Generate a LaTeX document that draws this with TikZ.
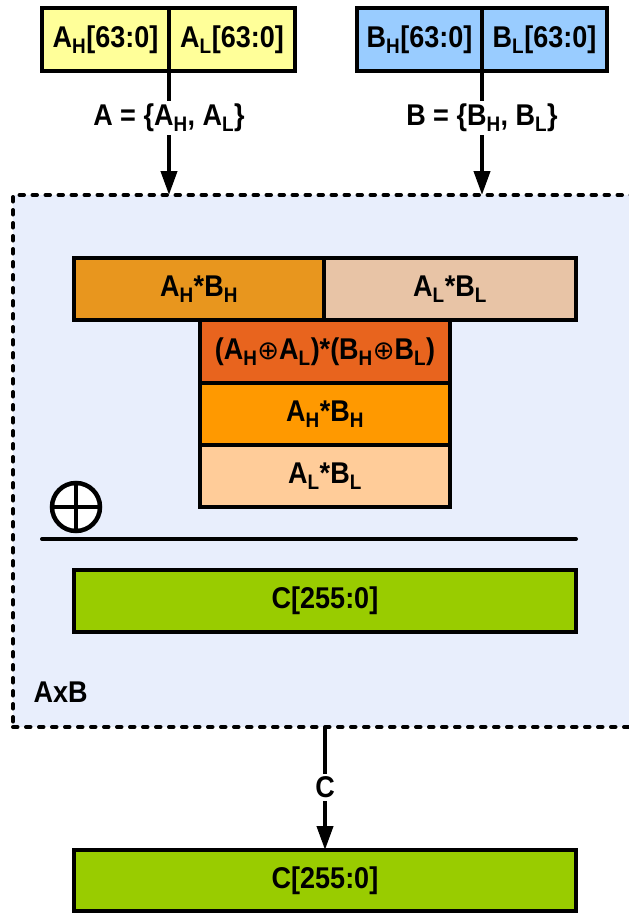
\documentclass[tikz,border=0pt]{standalone}
\usepackage{fontspec}
\setmainfont{Liberation Sans}[FakeStretch=0.9]
\newfontfamily\symfont{DejaVu Sans}
\usetikzlibrary{arrows.meta}

\definecolor{regyellow}{HTML}{FFFF99}
\definecolor{regblue}{HTML}{99CCFF}
\definecolor{unitbg}{HTML}{E8EEFC}
\definecolor{hiorange}{HTML}{E8961E}
\definecolor{lopeach}{HTML}{E8C4A6}
\definecolor{midorange}{HTML}{E8641E}
\definecolor{brightorange}{HTML}{FF9900}
\definecolor{lightpeach}{HTML}{FFCC99}
\definecolor{resgreen}{HTML}{99CC00}

\newcommand{\sbs}[1]{\textsubscript{#1}}
\newcommand{\xorop}{{\symfont\mdseries\fontsize{26}{28}\selectfont ⊕}}

\begin{document}
\begin{tikzpicture}[x=1pt,y=-1pt,
  every node/.style={font=\fontsize{30}{34}\selectfont\bfseries},
  cell/.style={draw=black, line width=4pt, inner sep=0pt, outer sep=0pt, rectangle},
  lbl/.style={fill=white, inner sep=3pt},
  arr/.style={line width=4pt, -{Triangle[width=16pt,length=24pt]}}]
\useasboundingbox (0,0) rectangle (629,913);

% multiplier unit
\node[draw=black, fill=unitbg, line width=4pt, line cap=round, dash pattern=on 4.5pt off 8.5pt,
      inner sep=0pt, outer sep=0pt, minimum width=630pt, minimum height=532pt,
      anchor=north west] (axb) at (13,195) {};
\node[anchor=west] (axblbl) at (30,692) {AxB};

% operand registers
\node[cell, fill=regyellow, minimum width=127pt, minimum height=63pt] (ah) at (105.5,39.5) {A\sbs{H}[63:0]};
\node[cell, fill=regyellow, minimum width=126pt, minimum height=63pt] (al) at (232,39.5) {A\sbs{L}[63:0]};
\node[cell, fill=regblue, minimum width=125pt, minimum height=63pt] (bh) at (419.5,39.5) {B\sbs{H}[63:0]};
\node[cell, fill=regblue, minimum width=125pt, minimum height=63pt] (bl) at (544.5,39.5) {B\sbs{L}[63:0]};

% partial products
\node[cell, fill=hiorange, minimum width=250pt, minimum height=62pt] (p1) at (199,289) {A\sbs{H}*B\sbs{H}};
\node[cell, fill=lopeach, minimum width=252pt, minimum height=62pt] (p2) at (450,289) {A\sbs{L}*B\sbs{L}};
\node[cell, fill=midorange, minimum width=250pt, minimum height=63pt] (p3) at (325,351.5) {(A\sbs{H}\xorop A\sbs{L})*(B\sbs{H}\xorop B\sbs{L})};
\node[cell, fill=brightorange, minimum width=250pt, minimum height=62pt] (p4) at (325,414) {A\sbs{H}*B\sbs{H}};
\node[cell, fill=lightpeach, minimum width=250pt, minimum height=62pt] (p5) at (325,476) {A\sbs{L}*B\sbs{L}};

% xor accumulation
\draw[line width=4.5pt, fill=white] (76,507) circle (24pt);
\draw[line width=4pt] (52,507) -- (100,507) (76,483) -- (76,531);
\draw[line width=4pt, line cap=round] (42,539) -- (576,539);

% results
\node[cell, fill=resgreen, minimum width=502pt, minimum height=62pt] (cin) at (325,601) {C[255:0]};
\node[cell, fill=resgreen, minimum width=502pt, minimum height=61pt] (cout) at (325,880.5) {C[255:0]};

% connectors
\draw[arr] (ah.south east) -- node[lbl, pos=0.38] {A = \{A\sbs{H}, A\sbs{L}\}} (ah.south east |- axb.north);
\draw[arr] (bh.south east) -- node[lbl, pos=0.38] {B = \{B\sbs{H}, B\sbs{L}\}} (bh.south east |- axb.north);
\draw[arr] (cout.north |- axb.south) -- node[lbl, pos=0.49] {C} (cout.north);
\end{tikzpicture}
\end{document}
